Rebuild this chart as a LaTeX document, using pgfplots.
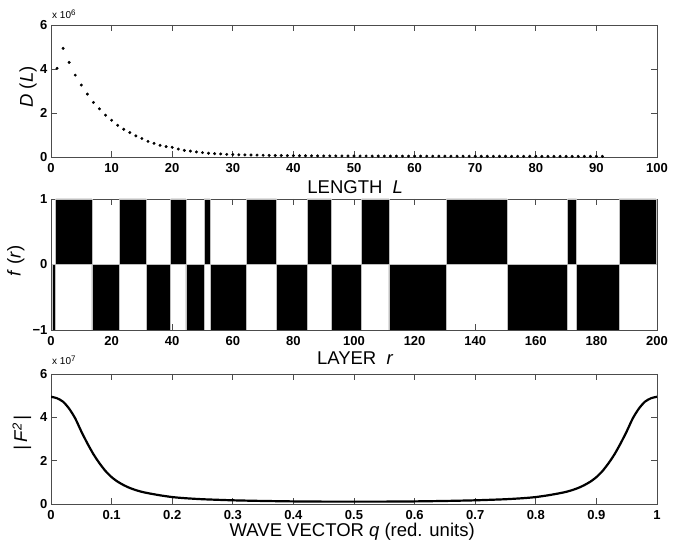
\documentclass[border=0pt]{standalone}
\usepackage{fontspec}
\setmainfont{Liberation Sans}
\usepackage{pgfplots}
\pgfplotsset{compat=1.18}
\pgfplotsset{
  panel/.style={
    scale only axis, width=606pt, anchor=south west,
    enlargelimits=false,
    axis line style={black!70, line width=0.8pt},
    every tick/.style={black!70, line width=0.8pt},
    major tick length=6pt,
    tick align=inside,
    scaled ticks=false,
    /pgf/number format/assume math mode=true,
    ticklabel style={font=\fontsize{13}{15}\selectfont\bfseries},
    xticklabel style={yshift=-3pt},
    label style={font=\fontsize{18.5}{21}\selectfont},
  }
}
\begin{document}
\begin{tikzpicture}
\path[use as bounding box] (0pt,0pt) rectangle (689pt,548pt);
% ---------------- top panel ----------------
\begin{axis}[panel, at={(51pt,391pt)}, height=132pt,
  xmin=0, xmax=100, ymin=0, ymax=6,
  xtick={0,10,...,100}, ytick={0,2,4,6},
  xlabel={LENGTH\ \ \textit{L}},
  ylabel={\textit{D}\ (\textit{L})},
  xlabel style={at={(axis description cs:0.502,0)}, anchor=base, yshift=-37pt},
  ylabel style={at={(axis description cs:-0.038,0.53)}, anchor=center},
]
\addplot[only marks, mark=*, mark size=1.3pt, black] coordinates {
(1,4.03)(2,4.94)(3,4.30)(4,3.72)(5,3.27)(6,2.86)(7,2.48)(8,2.19)(9,1.90)(10,1.67)
(11,1.44)(12,1.26)(13,1.11)(14,0.96)(15,0.84)(16,0.71)(17,0.62)(18,0.53)(19,0.47)(20,0.44)
(21,0.36)(22,0.30)(23,0.27)(24,0.23)(25,0.20)(26,0.17)(27,0.15)(28,0.14)(29,0.12)(30,0.11)
(31,0.10)(32,0.095)(33,0.09)(34,0.085)(35,0.08)(36,0.075)(37,0.07)(38,0.066)(39,0.063)(40,0.06)
(41,0.058)(42,0.056)(43,0.054)(44,0.052)(45,0.05)(46,0.049)(47,0.048)(48,0.047)(49,0.046)(50,0.045)
(51,0.044)(52,0.044)(53,0.043)(54,0.043)(55,0.042)(56,0.042)(57,0.041)(58,0.041)(59,0.04)(60,0.04)
(61,0.04)(62,0.039)(63,0.039)(64,0.038)(65,0.038)(66,0.037)(67,0.037)(68,0.036)(69,0.036)(70,0.035)
(71,0.035)(72,0.034)(73,0.034)(74,0.033)(75,0.033)(76,0.032)(77,0.032)(78,0.031)(79,0.031)(80,0.03)
(81,0.03)(82,0.03)(83,0.03)(84,0.03)(85,0.03)(86,0.03)(87,0.03)(88,0.03)(89,0.03)(90,0.03)
(91,0.03)
};
\end{axis}
\node[anchor=base west, font=\fontsize{10}{12}\selectfont, inner sep=0pt] at (52pt,529pt) {x 10\raisebox{0.6ex}{\fontsize{8}{9}\selectfont 6}};
% ---------------- middle panel ----------------
\begin{axis}[panel, at={(51pt,218pt)}, height=131pt,
  xmin=0, xmax=200, ymin=-1, ymax=1,
  xtick={0,20,...,200}, ytick={-1,0,1}, yticklabels={−1,0,1},
  xlabel={LAYER\ \ \textit{r}},
  ylabel={\textit{f}\ (\textit{r})},
  xlabel style={at={(axis description cs:0.502,0)}, anchor=base, yshift=-35pt},
  ylabel style={at={(axis description cs:-0.058,0.527)}, anchor=center},
]
\addplot[ybar interval, fill=black, draw=black!25, line width=0.5pt] coordinates {
(0.5,-1)(1.5,1)(13.5,-1)(22.5,1)(31.5,-1)(39.5,1)(44.5,-1)(50.5,1)(52.5,-1)(64.5,1)
(74.5,-1)(84.5,1)(92.5,-1)(102.5,1)(111.5,-1)(130.5,1)(150.5,-1)(170.5,1)(173.5,-1)(187.5,1)
(199.7,1)
};
\end{axis}
% ---------------- bottom panel ----------------
\begin{axis}[panel, at={(51pt,44pt)}, height=130pt,
  xmin=0, xmax=1, ymin=0, ymax=6,
  xtick={0,0.1,0.2,0.3,0.4,0.5,0.6,0.7,0.8,0.9,1},
  xticklabels={0,0.1,0.2,0.3,0.4,0.5,0.6,0.7,0.8,0.9,1},
  ytick={0,2,4,6},
  xlabel={WAVE VECTOR \textit{q} (red. units)},
  ylabel={\textit{|\,F\raisebox{0.55ex}{\fontsize{13}{15}\selectfont 2}\,|}},
  xlabel style={at={(axis description cs:0.497,0)}, anchor=base, yshift=-33pt},
  ylabel style={at={(axis description cs:-0.048,0.546)}, anchor=center},
]
\addplot[black, line width=2.2pt, smooth, tension=0.4] coordinates {
(0.00,4.95)(0.01,4.88)(0.02,4.72)(0.03,4.40)(0.04,3.95)(0.05,3.35)(0.06,2.80)(0.07,2.30)
(0.08,1.88)(0.09,1.52)(0.10,1.24)(0.11,1.03)(0.12,0.87)(0.13,0.74)(0.14,0.64)(0.15,0.56)
(0.16,0.50)(0.18,0.40)(0.20,0.32)(0.22,0.27)(0.25,0.22)(0.30,0.17)(0.35,0.14)(0.40,0.12)
(0.45,0.11)(0.50,0.11)(0.55,0.11)(0.60,0.12)(0.65,0.14)(0.70,0.17)(0.75,0.22)(0.78,0.27)
(0.80,0.32)(0.82,0.40)(0.84,0.50)(0.85,0.56)(0.86,0.64)(0.87,0.74)(0.88,0.87)(0.89,1.03)
(0.90,1.24)(0.91,1.52)(0.92,1.88)(0.93,2.30)(0.94,2.80)(0.95,3.35)(0.96,3.95)(0.97,4.40)
(0.98,4.72)(0.99,4.88)(1.00,4.95)
};
\end{axis}
\node[anchor=base west, font=\fontsize{10}{12}\selectfont, inner sep=0pt] at (52pt,183pt) {x 10\raisebox{0.6ex}{\fontsize{8}{9}\selectfont 7}};
\end{tikzpicture}
\end{document}
